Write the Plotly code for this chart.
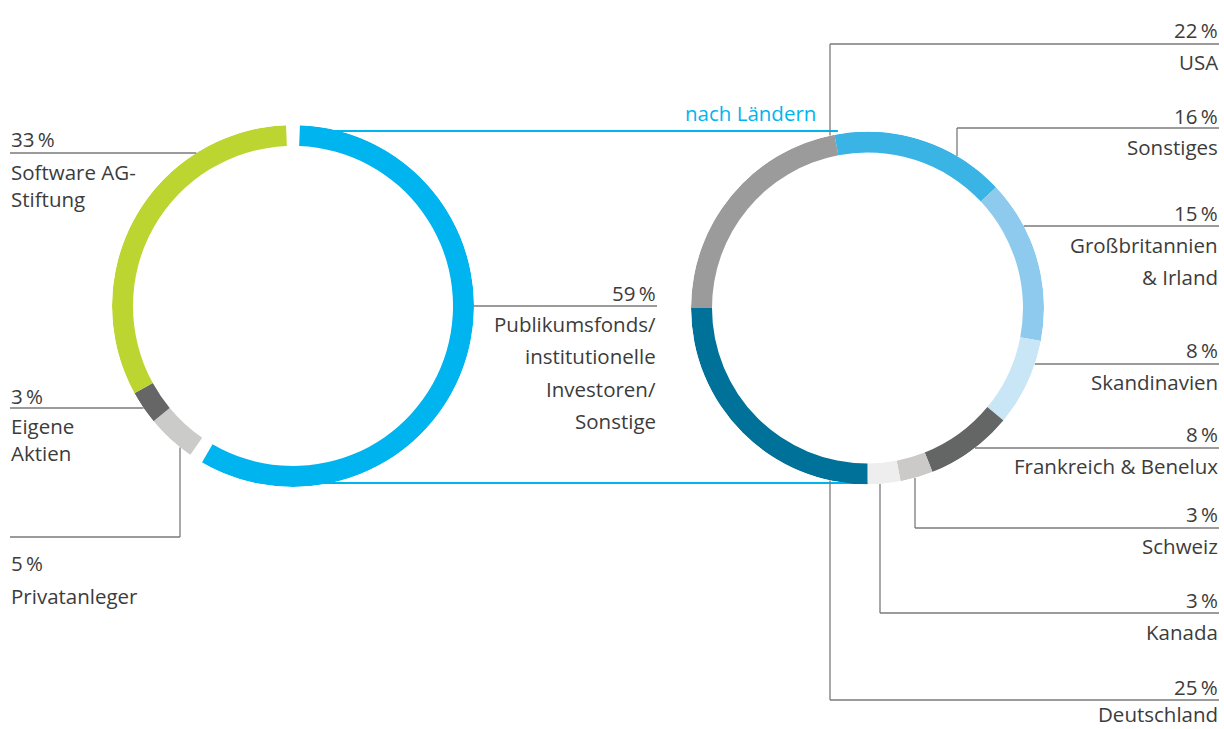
import math
import plotly.graph_objects as go

W, H = 1224, 729

# ---------------- data ----------------
left_labels = ["Publikumsfonds/institutionelle Investoren/Sonstige",
               "Privatanleger", "Eigene Aktien", "Software AG-Stiftung"]
left_values = [59, 5, 3, 33]
left_colors = ["#00B5EF", "#CBCBCA", "#656665", "#BDD531"]

right_labels = ["USA", "Sonstiges", "Großbritannien & Irland", "Skandinavien",
                "Frankreich & Benelux", "Schweiz", "Kanada", "Deutschland"]
right_values = [22, 16, 15, 8, 8, 3, 3, 25]
right_colors = ["#9A9B9A", "#3AB4E5", "#8DCAEE", "#C8E6F6",
                "#646565", "#CBCAC8", "#EDEEED", "#00729A"]

right_title = "nach Ländern"

# ---------------- geometry / style ----------------
LC = (293, 306, 181)     # left ring centre x, y, outer radius (px)
RC = (867.5, 308, 176.5)  # right ring
THICK = 21
GAP = 4.4                 # degrees of white gap around the highlighted slice
TXT = "#3c3c3c"
LEAD = "#7a7a7a"
CYAN = "#00B5EF"
FONT = "Open Sans"
FS = 20.5
FW = 400


def X(p):
    return p / W


def Y(p):
    return 1 - p / H


def ring_bars(values, start, gap_idx=(), gap=0.0):
    n = len(values)
    thetas, widths = [], []
    a = start
    for i, v in enumerate(values):
        s, e = a, a + v * 3.6
        a = e
        if i in gap_idx or (i - 1) % n in gap_idx:
            s += gap / 2
        if i in gap_idx or (i + 1) % n in gap_idx:
            e -= gap / 2
        thetas.append((s + e) / 2)
        widths.append(e - s)
    return thetas, widths


fig = go.Figure()

lt, lw = ring_bars(left_values, 0, gap_idx=(0,), gap=GAP)
fig.add_trace(go.Barpolar(r=[THICK] * len(left_values), base=[LC[2] - THICK] * len(left_values),
                          theta=lt, width=lw, marker_color=left_colors,
                          marker_line_width=0, text=left_labels, subplot="polar",
                          hoverinfo="text"))

rt, rw = ring_bars(right_values, 270)
fig.add_trace(go.Barpolar(r=[THICK] * len(right_values), base=[RC[2] - THICK] * len(right_values),
                          theta=rt, width=rw, marker_color=right_colors,
                          marker_line_width=0, text=right_labels, subplot="polar2",
                          hoverinfo="text"))


def polar_layout(c):
    cx, cy, R = c
    return dict(domain=dict(x=[X(cx - R), X(cx + R)], y=[Y(cy + R), Y(cy - R)]),
                bgcolor="rgba(0,0,0,0)",
                radialaxis=dict(range=[0, R], visible=False, showgrid=False),
                angularaxis=dict(rotation=90, direction="clockwise", visible=False,
                                 showgrid=False))


shapes = []
annotations = []


def line(x0, y0, x1, y1, color=LEAD, width=1.3, layer="above"):
    shapes.append(dict(type="line", xref="paper", yref="paper",
                       x0=X(x0), y0=Y(y0), x1=X(x1), y1=Y(y1),
                       line=dict(color=color, width=width), layer=layer))


def text(t, x, y, anchor, color=TXT):
    annotations.append(dict(text=t, xref="paper", yref="paper", x=X(x), y=Y(y),
                            xanchor=anchor, yanchor="middle", showarrow=False,
                            borderpad=0, align=anchor,
                            font=dict(family=FONT, size=FS, color=color, weight=FW)))


def hx(c, y, side):
    cx, cy, R = c
    return cx + side * math.sqrt(max(R * R - (y - cy) ** 2, 0))


def vy(c, x, side):
    cx, cy, R = c
    return cy + side * math.sqrt(max(R * R - (x - cx) ** 2, 0))


def pct(v):
    return f"{v}\u2009%"


# connector lines between rings
blue_start_x = LC[0] + LC[2] * math.sin(math.radians(GAP / 2))
line(blue_start_x, 131, hx(RC, 134, -1), 131, color=CYAN, width=2, layer="below")
line(LC[0], 483, RC[0], 483, color=CYAN, width=2, layer="below")
text(right_title, 817, 113, "right", color=CYAN)

# ---- left ring labels ----
# Software AG-Stiftung
line(10, 153, hx(LC, 153, -1), 153)
text(pct(left_values[3]), 10, 139, "left")
text("Software AG-<br>Stiftung", 10, 185, "left")
# Eigene Aktien
line(10, 408, hx(LC, 408, -1), 408)
text(pct(left_values[2]), 10, 396, "left")
text("Eigene<br>Aktien", 10, 440, "left")
# Privatanleger
line(180, vy(LC, 180, 1), 180, 537)
line(10, 537, 180, 537)
text(pct(left_values[1]), 10, 563, "left")
text("Privatanleger", 10, 596, "left")
# Publikumsfonds
line(hx(LC, 306, 1), 306, 657, 306)
text(pct(left_values[0]), 657, 293, "right")
for i, t in enumerate(["Publikumsfonds/", "institutionelle", "Investoren/", "Sonstige"]):
    text(t, 657, 324 + i * 32.3, "right")

# ---- right ring labels ----
XR = 1219
# USA
line(830, 44, XR, 44)
line(830, 44, 830, vy(RC, 830, -1))
text(pct(right_values[0]), XR, 30, "right")
text("USA", XR, 62, "right")
# Sonstiges
line(957, 128, XR, 128)
line(957, 128, 957, vy(RC, 957, -1))
text(pct(right_values[1]), XR, 116, "right")
text("Sonstiges", XR, 147, "right")
# GB
line(hx(RC, 226, 1), 226, XR, 226)
text(pct(right_values[2]), XR, 213, "right")
text("Großbritannien", XR, 245, "right")
text("& Irland", XR, 277, "right")
# Skandinavien
line(hx(RC, 364, 1), 364, XR, 364)
text(pct(right_values[3]), XR, 350, "right")
text("Skandinavien", XR, 382, "right")
# Frankreich
line(hx(RC, 448, 1), 448, XR, 448)
text(pct(right_values[4]), XR, 434, "right")
text("Frankreich & Benelux", XR, 466, "right")
# Schweiz
line(915, vy(RC, 915, 1), 915, 528)
line(915, 528, XR, 528)
text(pct(right_values[5]), XR, 514, "right")
text("Schweiz", XR, 546, "right")
# Kanada
line(880, vy(RC, 880, 1), 880, 613)
line(880, 613, XR, 613)
text(pct(right_values[6]), XR, 600, "right")
text("Kanada", XR, 632, "right")
# Deutschland
line(830, vy(RC, 830, 1), 830, 700)
line(830, 700, XR, 700)
text(pct(right_values[7]), XR, 687, "right")
text("Deutschland", XR, 714, "right")

fig.update_layout(width=W, height=H, margin=dict(l=0, r=0, t=0, b=0),
                  paper_bgcolor="white", plot_bgcolor="white", showlegend=False,
                  polar=polar_layout(LC), polar2=polar_layout(RC),
                  shapes=shapes, annotations=annotations)

fig.write_html("out.html")
